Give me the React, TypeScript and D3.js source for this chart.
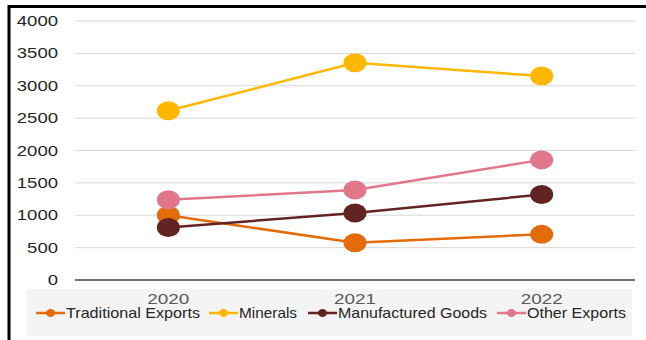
import React from "react";
import * as d3 from "d3";

const years = ["2020", "2021", "2022"];
const seriesNames = ["Traditional Exports", "Minerals", "Manufactured Goods", "Other Exports"];
const traditional = [1000, 575, 705];
const minerals = [2615, 3355, 3150];
const manufactured = [810, 1035, 1320];
const other = [1240, 1390, 1855];
const yTicks = [0, 500, 1000, 1500, 2000, 2500, 3000, 3500, 4000];
const colors = ["#e36c0a", "#ffb800", "#612422", "#e0778b"];

const allSeries = [traditional, minerals, manufactured, other];

export default function App() {
  const W = 646, H = 340;
  const x = d3.scaleBand().domain(years).range([75, 635]);
  const y = d3.scaleLinear().domain([0, 4000]).range([280, 21]);
  const line = d3.line<number>().x((_, i) => x(years[i])! + x.bandwidth() / 2).y((v) => y(v));
  const font = "'Liberation Sans', Arial, sans-serif";
  const legendX = [36, 209, 308, 497];
  const legendW = [134, 58, 149, 99];
  return (
    <svg width={W} height={H} style={{ position: "absolute", left: 0, top: 0, background: "#fff" }}>
      <rect x={9} y={6.5} width={700} height={400} fill="#fff" stroke="#000" strokeWidth={3} />
      <rect x={27} y={289} width={605} height={47} fill="#f4f4f4" />
      {yTicks.map((t) => (
        <g key={t}>
          {t !== 0 && <line x1={75} x2={635} y1={y(t)} y2={y(t)} stroke="#d9d9d9" strokeWidth={1} />}
          <text x={58} y={y(t) + 5} textAnchor="end" fontFamily={font} fontSize={15} fill="#262626"
            textLength={String(t).length * 10.3} lengthAdjust="spacingAndGlyphs">{t}</text>
        </g>
      ))}
      <line x1={75} x2={635} y1={y(0)} y2={y(0)} stroke="#404040" strokeWidth={1.5} />
      {years.map((yr) => (
        <text key={yr} x={x(yr)! + x.bandwidth() / 2} y={304} textAnchor="middle" fontFamily={font}
          fontSize={15} fill="#595959" textLength={42} lengthAdjust="spacingAndGlyphs">{yr}</text>
      ))}
      {allSeries.map((s, k) => (
        <path key={k} d={line(s)!} fill="none" stroke={colors[k]} strokeWidth={2.5} />
      ))}
      {allSeries.map((s, k) => (
        <g key={"m" + k}>
          {s.map((v, i) => (
            <ellipse key={i} cx={x(years[i])! + x.bandwidth() / 2} cy={y(v)} rx={11.5} ry={9.5} fill={colors[k]} />
          ))}
        </g>
      ))}
      {seriesNames.map((n, k) => (
        <g key={n}>
          <line x1={legendX[k]} x2={legendX[k] + 29} y1={313} y2={313} stroke={colors[k]} strokeWidth={2.5} />
          <ellipse cx={legendX[k] + 14.5} cy={313} rx={4.5} ry={4} fill={colors[k]} />
          <text x={legendX[k] + 30} y={318} fontFamily={font} fontSize={14.5} fill="#262626"
            textLength={legendW[k]} lengthAdjust="spacingAndGlyphs">{n}</text>
        </g>
      ))}
    </svg>
  );
}
